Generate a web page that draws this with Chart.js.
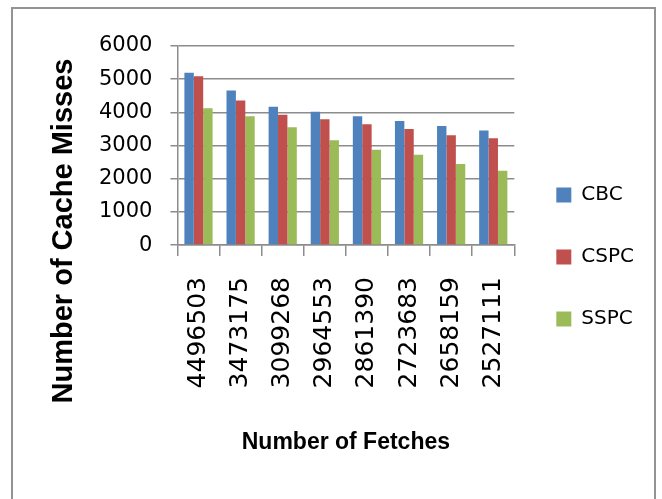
<!DOCTYPE html>
<html>
<head>
<meta charset="utf-8">
<script src="https://cdn.jsdelivr.net/npm/chart.js@4/dist/chart.umd.min.js"></script>
<style>
  html, body { margin: 0; padding: 0; background: #fff; overflow: hidden; width: 662px; height: 499px; }
  #frame { position: absolute; left: 11px; top: 7px; width: 645px; height: 600px; border: 2px solid #939393; box-sizing: border-box; }
  #c { position: absolute; left: 0; top: 0; }
</style>
</head>
<body>
<div id="frame"></div>
<canvas id="c" width="662" height="499"></canvas>
<script>
const categories = ["4496503", "3473175", "3099268", "2964553", "2861390", "2723683", "2658159", "2527111"];
const seriesNames = ["CBC", "CSPC", "SSPC"];
const cbcValues  = [5190, 4660, 4170, 4020, 3880, 3740, 3590, 3450];
const cspcValues = [5090, 4360, 3930, 3790, 3640, 3500, 3310, 3220];
const sspcValues = [4120, 3880, 3550, 3160, 2870, 2720, 2440, 2240];
const yTicks = [0, 1000, 2000, 3000, 4000, 5000, 6000];
const xTitle = "Number of Fetches";
const yTitle = "Number of Cache Misses";
const colors = ["#4F81BD", "#C0504D", "#9BBB59"];

const gridGray = "#8c8c8c";

const yTitlePlugin = {
  id: 'yTitlePlugin',
  afterDraw(chart) {
    const ctx = chart.ctx;
    ctx.save();
    ctx.translate(64, 231);
    ctx.rotate(-Math.PI / 2);
    ctx.font = "bold 29px 'Liberation Sans', Arial, sans-serif";
    ctx.fillStyle = "#000";
    ctx.textAlign = "center";
    ctx.textBaseline = "middle";
    ctx.fillText(yTitle, 0, 0);
    ctx.restore();
  }
};

new Chart(document.getElementById('c'), {
  type: 'bar',
  data: {
    labels: categories,
    datasets: [
      { label: seriesNames[0], data: cbcValues, backgroundColor: colors[0] },
      { label: seriesNames[1], data: cspcValues, backgroundColor: colors[1] },
      { label: seriesNames[2], data: sspcValues, backgroundColor: colors[2] }
    ]
  },
  options: {
    responsive: false,
    animation: false,
    categoryPercentage: 0.67,
    barPercentage: 1.0,
    layout: { padding: { top: 46, bottom: 31, left: 81, right: 18 } },
    plugins: {
      title: {
        display: true,
        position: 'bottom',
        fullSize: false,
        text: xTitle,
        color: '#000',
        font: { family: "'Liberation Sans', Arial, sans-serif", size: 23, weight: 'bold' },
        padding: { top: 19, bottom: 12 }
      },
      legend: {
        position: 'right',
        align: 'center',
        labels: {
          boxWidth: 15,
          boxHeight: 15,
          padding: 42,
          color: '#000',
          font: { family: "'DejaVu Sans', sans-serif", size: 20 }
        }
      },
      tooltip: { enabled: false }
    },
    scales: {
      x: {
        grid: { display: true, drawOnChartArea: false, drawTicks: true, tickLength: 11, color: gridGray, lineWidth: 1.5 },
        border: { display: true, color: gridGray, width: 1.5 },
        ticks: {
          autoSkip: false,
          minRotation: 90,
          maxRotation: 90,
          padding: 21,
          color: '#000',
          font: { family: "'DejaVu Sans', sans-serif", size: 25 }
        }
      },
      y: {
        min: 0,
        max: 6000,
        afterBuildTicks(axis) { axis.ticks = yTicks.map(v => ({ value: v })); },
        grid: { color: gridGray, lineWidth: 1.5, tickLength: 7, drawTicks: true },
        border: { display: true, color: gridGray, width: 1.5 },
        ticks: {
          padding: 18,
          color: '#000',
          font: { family: "'DejaVu Sans', sans-serif", size: 21 },
          callback: (v) => String(v)
        }
      }
    }
  },
  plugins: [yTitlePlugin]
});
</script>
</body>
</html>
